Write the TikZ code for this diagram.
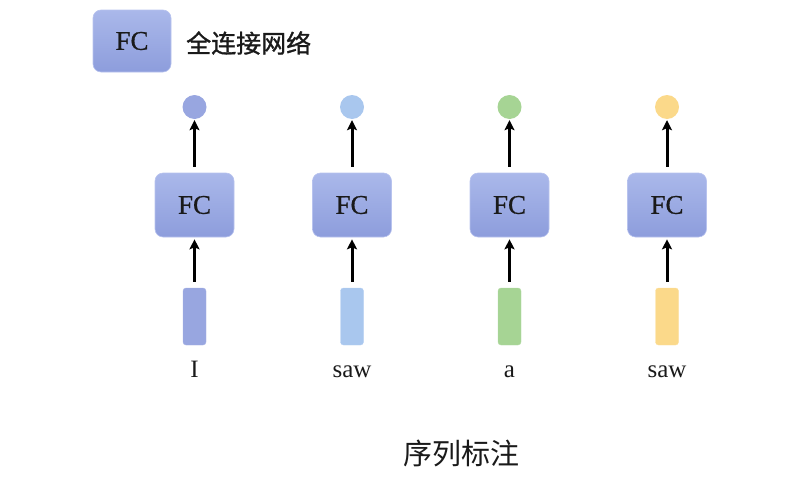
\documentclass[tikz,border=0pt]{standalone}
\usepackage{fontspec}
\setmainfont{Liberation Serif}
\newfontfamily\fcfont[FakeBold=0.6]{Liberation Serif}
\newfontfamily\cjk{Noto Sans CJK SC}
\newfontfamily\cjkm[FakeBold=1.2]{Noto Sans CJK SC}
\usetikzlibrary{arrows.meta}
\definecolor{fctop}{HTML}{AAB8EA}
\definecolor{fcbot}{HTML}{8D9DDC}
\definecolor{fcedge}{HTML}{B8C3EE}
\definecolor{cA}{HTML}{98A6E0}
\definecolor{cB}{HTML}{A9C7EE}
\definecolor{cC}{HTML}{A6D494}
\definecolor{cD}{HTML}{FBD98A}
\definecolor{ink}{HTML}{1A1A1A}
\tikzset{
  fcbox/.style={rounded corners=8pt, top color=fctop, bottom color=fcbot, draw=fcedge, line width=0.6pt,
    minimum width=79pt, minimum height=64pt, inner sep=0pt, text=ink, font=\fcfont\fontsize{27}{27}\selectfont},
  legbox/.style={fcbox, minimum width=78pt, minimum height=62pt},
  vecbar/.style={rounded corners=3pt, minimum width=23pt, minimum height=57pt, inner sep=0pt, draw=#1!85!white, line width=0.4pt, fill=#1},
  outdot/.style={circle, minimum size=24pt, inner sep=0pt, fill=#1},
  wordlbl/.style={anchor=base, inner sep=0pt, text=ink, font=\fontsize{25}{25}\selectfont},
  arr/.style={-{Stealth[length=10pt,width=10pt,inset=2pt]}, line width=3pt, black},
}
\begin{document}
\begin{tikzpicture}[x=1pt,y=-1pt]
\useasboundingbox (0,0) rectangle (811,482);
\node[legbox] (leg) at (132,41) {FC};
\node[anchor=west, inner sep=0pt, text=ink, font=\cjkm\fontsize{25}{25}\selectfont] (legt) at (186,43) {全连接网络};
\foreach \i/\c/\w in {0/cA/I, 1/cB/saw, 2/cC/a, 3/cD/saw}{
  \pgfmathsetmacro{\xx}{194.5+157.5*\i}
  \node[fcbox] (fc\i) at (\xx,205) {FC};
  \node[outdot=\c] (o\i) at (\xx,107) {};
  \node[vecbar=\c] (v\i) at (\xx,316.5) {};
  \node[wordlbl] (w\i) at (\xx,377) {\w};
  \draw[arr, shorten <=6pt, shorten >=1pt] (fc\i.north) -- (o\i.south);
  \draw[arr, shorten <=6pt, shorten >=2pt] (v\i.north) -- (fc\i.south);
}
\node[inner sep=0pt, text=ink, font=\cjk\fontsize{29}{29}\selectfont] (title) at (461,453) {序列标注};
\end{tikzpicture}
\end{document}
